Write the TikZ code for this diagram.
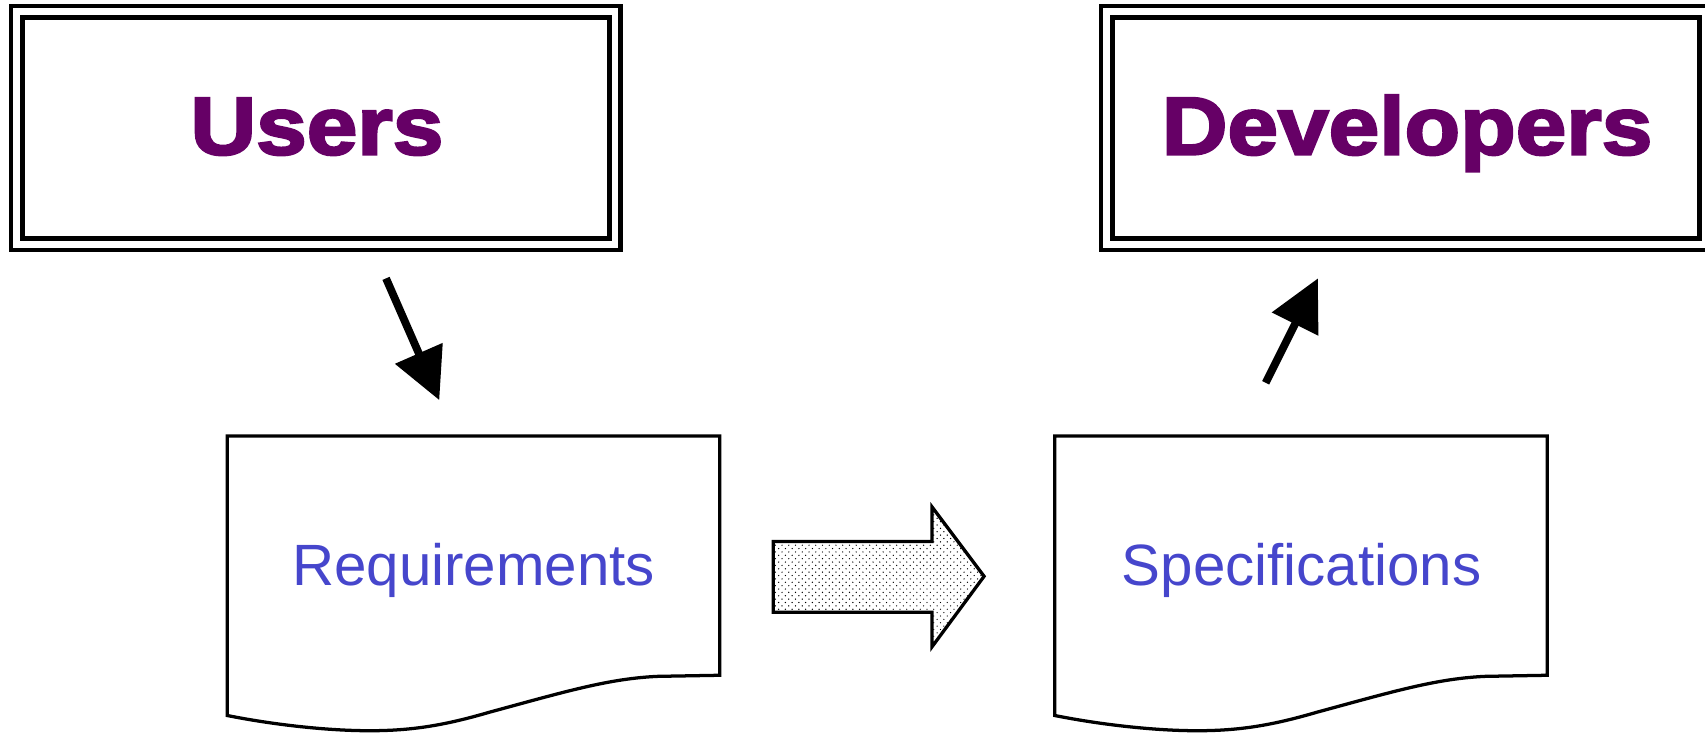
\documentclass[tikz,border=0pt]{standalone}
\usepackage{fontspec}
\setmainfont{Liberation Sans}
\newfontfamily\heavyfont[FakeStretch=1.11,FakeBold=3]{Liberation Sans}
\usetikzlibrary{arrows.meta,patterns}
\definecolor{rolepurple}{HTML}{660066}
\definecolor{docblue}{HTML}{4646CC}
% sparse staggered dot fill
\pgfdeclarepatternformonly{sparsedots}{\pgfpoint{-0.5pt}{-0.5pt}}{\pgfpoint{2.6pt}{2.6pt}}{\pgfpoint{3.1pt}{3.1pt}}{%
  \pgfpathcircle{\pgfpoint{0pt}{0pt}}{0.32pt}%
  \pgfpathcircle{\pgfpoint{1.55pt}{1.55pt}}{0.32pt}%
  \pgfusepath{fill}}
\tikzset{
  rolebox/.style={draw, line width=2.4pt, minimum width=270pt, minimum height=101.5pt, inner sep=0pt},
  roleframe/.style={draw, line width=2.2pt},
  roletext/.style={font=\heavyfont\bfseries\fontsize{37.7}{40}\selectfont, text=rolepurple, inner sep=0pt, anchor=base},
  doctext/.style={font=\fontsize{26.8}{30}\selectfont, text=docblue, inner sep=0pt, anchor=base},
  docline/.style={draw, line width=1.5pt, line join=miter},
  pointer/.style={line width=3.6pt, -{Triangle[length=23.5pt,width=23pt]}},
  docpage/.pic={
    \path[docline, fill=white] (0,0) -- (453,0) -- (453,220) -- (396,221)
      .. controls (351,223) and (311,235) .. (241,254)
      .. controls (200,266) and (170,271) .. (131,271)
      .. controls (90,271) and (40,265) .. (0,257) -- cycle;
  }
}
\begin{document}
\begin{tikzpicture}[x=0.5pt, y=-0.5pt]
  \useasboundingbox (0,0) rectangle (1568,675);

  % role boxes with a double frame
  \node[rolebox] (users) at (290.5,117.5) {};
  \draw[roleframe] ([shift={(-8,-8)}]users.north west) rectangle ([shift={(8,8.5)}]users.south east);
  \node[roletext] (usersLabel) at (291.5,142) {Users};

  \node[rolebox] (devs) at (1293,117.5) {};
  \draw[roleframe] ([shift={(-8,-8)}]devs.north west) rectangle ([shift={(8,8.5)}]devs.south east);
  \node[roletext] (devsLabel) at (1294,142) {Developers};

  % documents
  \pic (reqdoc) at (209,401) {docpage};
  \node[doctext] (reqText) at (435.5,538) {Requirements};

  \pic (specdoc) at (970,401) {docpage};
  \node[doctext] (specText) at (1197,538) {Specifications};

  % transformation arrow between the documents
  \path[draw, line width=1.5pt, line join=miter, pattern=sparsedots]
    (711,498) -- (857,498) -- (857,466) -- (905,530) -- (857,595) -- (857,563) -- (711,563) -- cycle;

  % pointers
  \coordinate (usersOut) at (355,256);
  \coordinate (reqIn) at (404,368);
  \draw[pointer] (usersOut) -- (reqIn);

  \coordinate (specOut) at (1164,352);
  \coordinate (devsIn) at (1212,256);
  \draw[pointer] (specOut) -- (devsIn);
\end{tikzpicture}
\end{document}
